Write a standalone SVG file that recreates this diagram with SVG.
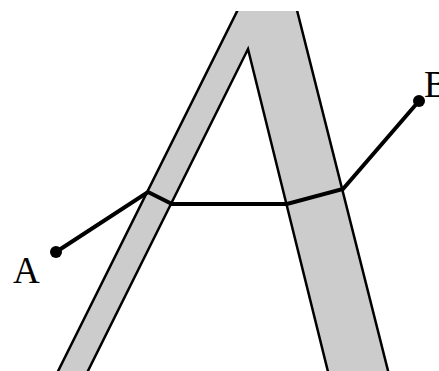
<svg xmlns="http://www.w3.org/2000/svg" width="439" height="371" viewBox="0 0 439 371">
<style>
.shape{fill:#cccccc;stroke:#000;stroke-width:2.5;stroke-linejoin:miter}
.route{fill:none;stroke:#000;stroke-width:4;stroke-linejoin:miter}
.dot{fill:#000}
.lbl{font-family:"Liberation Serif",serif;font-size:37px;fill:#000}
</style>
<defs>
<clipPath id="c"><rect x="0" y="11" width="439" height="360"/></clipPath>
</defs>
<rect width="439" height="371" fill="#fff"/>
<g id="letterA" clip-path="url(#c)">
<polygon class="shape" points="277,-69 395.4,400 335,400 248,49 73.5,400 43.7,400"/>
</g>
<g id="connectors">
<polyline class="route" points="56,252 148,192 172,204 287,204 343,189 419,101"/>
</g>
<g id="nodeA">
<circle class="dot" cx="56" cy="252" r="6"/>
<text class="lbl" x="13" y="283">A</text>
</g>
<g id="nodeB">
<circle class="dot" cx="419" cy="101" r="6"/>
<text class="lbl" x="424" y="97">B</text>
</g>
</svg>
